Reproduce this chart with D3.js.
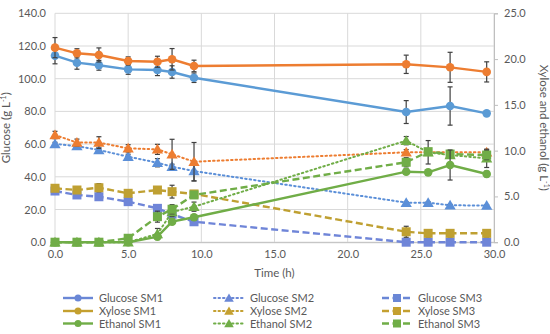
<!DOCTYPE html>
<html><head><meta charset="utf-8">
<script src="https://cdn.jsdelivr.net/npm/d3@7"></script>
<style>body{margin:0;background:#fff}svg{display:block;font-family:Lato,"Open Sans",sans-serif}</style>
</head><body><svg id="c" width="550" height="334"></svg>
<script>
// ---- data ----
const tAll = [0,1.5,3,5,7,8,9.5,24,25.5,27,29.5];
const tSM1 = [0,1.5,3,5,7,8,9.5,24,27,29.5];
const tXylSM2 = [0,1.5,3,5,7,8,9.5,24,29.5];
const glucoseSM1 = [114.1,109.8,108.2,105.7,105.3,104.1,100.6,79.6,83.3,78.8];
const glucoseSM1Err = [5,4,3,3,3.4,3.8,2.9,7,11.7,0.8];
const xyloseSM1 = [21.25,20.63,20.45,19.79,19.71,19.98,19.25,19.43,19.1,18.6];
const xyloseSM1Err = [1.1,0.5,0.77,0.45,0.6,1.17,0.63,1.0,1.64,1.1];
const glucoseSM2 = [60.1,58.8,56.4,52.3,48.6,46.2,43.5,24.2,24.2,22.6,22.4];
const glucoseSM2Err = [1,1,1.5,1.5,2.5,1.5,6,0.5,0.5,0.5,0.5];
const xyloseSM2 = [11.71,10.88,10.88,10.25,10.14,9.6,8.79,9.82,9.82];
const xyloseSM2Err = [0.4,0.38,0.64,0.4,0.55,1.64,2.1,0.3,0.3];
const glucoseSM3 = [31.3,28.9,27.8,24.8,20.7,17.1,12.5,0,0,0,0];
const glucoseSM3Err = [1,1,1,1,1,1,1,0.5,0.5,0.5,0.5];
const xyloseSM3 = [5.89,5.70,5.95,5.34,5.70,5.52,5.27,1.14,0.97,0.97,0.97];
const xyloseSM3Err = [0.2,0.2,0.45,0.2,0.3,0.7,0.3,0.6,0.4,0.4,0.4];
const ethanolSM1 = [0,0,0,0,0.6,2.24,2.72,7.7,7.63,8.43,7.45];
const ethanolSM1Err = [0,0,0,0,0.3,0.3,0.3,0.3,0.3,1.64,0.3];
const ethanolSM2 = [0,0,0,0,0.9,3.3,3.88,11.09,9.82,9.52,9.16];
const ethanolSM2Err = [0,0,0,0,0.6,0.5,0.5,0.45,1.28,0.3,1.0];
const ethanolSM3 = [0,0,0,0.43,2.79,3.6,5.16,8.73,9.89,9.63,9.52];
const ethanolSM3Err = [0,0,0,0.1,0.6,0.5,0.3,0.5,0.3,0.3,0.5];
const xTicks = [0,5,10,15,20,25,30];
const leftTicks = [0,20,40,60,80,100,120,140];
const rightTicks = [0,5,10,15,20,25];
const legendNames = ["Glucose SM1","Glucose SM2","Glucose SM3","Xylose SM1","Xylose SM2","Xylose SM3","Ethanol SM1","Ethanol SM2","Ethanol SM3"];

// ---- styling ----
const C = {gB:"#5B9BD5", gB2:"#5B8FD8", gB3:"#6F85D8", xO:"#ED7D31", xG:"#BFA032", eG:"#70AD47"};
const DASH = {solid:null, dot:"1.5,3", dash:"7,3.5"};
const series = [
  {t:tAll, v:glucoseSM3, e:glucoseSM3Err, ax:"L", c:C.gB3, d:"dash", m:"sq"},
  {t:tAll, v:xyloseSM3, e:xyloseSM3Err, ax:"R", c:C.xG, d:"dash", m:"sq"},
  {t:tAll, v:glucoseSM2, e:glucoseSM2Err, ax:"L", c:C.gB2, d:"dot", m:"tri"},
  {t:tXylSM2, v:xyloseSM2, e:xyloseSM2Err, ax:"R", c:C.xO, d:"dot", m:"tri"},
  {t:tSM1, v:glucoseSM1, e:glucoseSM1Err, ax:"L", c:C.gB, d:"solid", m:"ci"},
  {t:tSM1, v:xyloseSM1, e:xyloseSM1Err, ax:"R", c:C.xO, d:"solid", m:"ci"},
  {t:tAll, v:ethanolSM2, e:ethanolSM2Err, ax:"R", c:C.eG, d:"dot", m:"tri"},
  {t:tAll, v:ethanolSM3, e:ethanolSM3Err, ax:"R", c:C.eG, d:"dash", m:"sq"},
  {t:tAll, v:ethanolSM1, e:ethanolSM1Err, ax:"R", c:C.eG, d:"solid", m:"ci"}
];

const svg = d3.select("#c");
const X0=55, X1=494, Y0=242.2, Y1=13.3;
const x = d3.scaleLinear().domain([0,30]).range([X0,X1]);
const yL = d3.scaleLinear().domain([0,140]).range([Y0,Y1]);
const yR = d3.scaleLinear().domain([0,25]).range([Y0,Y1]);
const txt = "#595959";

// gridlines
svg.append("g").selectAll("line").data(leftTicks).join("line")
  .attr("x1",X0).attr("x2",X1).attr("y1",d=>yL(d)).attr("y2",d=>yL(d))
  .attr("stroke","#D9D9D9").attr("stroke-width",1);
svg.append("g").selectAll("line").data(xTicks).join("line")
  .attr("x1",d=>x(d)).attr("x2",d=>x(d)).attr("y1",Y0).attr("y2",Y1)
  .attr("stroke","#D9D9D9").attr("stroke-width",1);

// axes
const gx = svg.append("g").attr("transform",`translate(0,${Y0})`)
  .call(d3.axisBottom(x).tickValues(xTicks).tickFormat(d3.format(".1f")).tickSize(0).tickPadding(8));
const gl = svg.append("g").attr("transform",`translate(${X0},0)`)
  .call(d3.axisLeft(yL).tickValues(leftTicks).tickFormat(d3.format(".1f")).tickSize(0).tickPadding(9));
const gr = svg.append("g").attr("transform",`translate(${X1},0)`)
  .call(d3.axisRight(yR).tickValues(rightTicks).tickFormat(d3.format(".1f")).tickSize(4).tickPadding(6));
[gx,gl,gr].forEach(g=>{
  g.selectAll("text").attr("fill",txt).style("font-size","11px").style("font-family","Lato,'Open Sans',sans-serif");
  g.select(".domain").attr("stroke","#BFBFBF");
  g.selectAll(".tick line").attr("stroke","#BFBFBF");
});
gl.select(".domain").remove();

// titles
svg.append("text").attr("x",(X0+X1)/2).attr("y",277).attr("text-anchor","middle")
  .attr("fill",txt).style("font-size","11.5px").text("Time (h)");
const lt = svg.append("text").attr("transform",`translate(10,${(Y0+Y1)/2}) rotate(-90)`)
  .attr("text-anchor","middle").attr("fill",txt).style("font-size","11.5px");
lt.append("tspan").text("Glucose (g L");
lt.append("tspan").attr("dy",-4).style("font-size","7px").text("-1");
lt.append("tspan").attr("dy",4).text(")");
const rt = svg.append("text").attr("transform",`translate(540,${(Y0+Y1)/2}) rotate(90)`)
  .attr("text-anchor","middle").attr("fill",txt).style("font-size","11.5px");
rt.append("tspan").text("Xylose and ethanol (g L");
rt.append("tspan").attr("dy",-4).style("font-size","7px").text("-1");
rt.append("tspan").attr("dy",4).text(")");

function marker(g, m, c, cx, cy){
  if(m==="ci") g.append("circle").attr("cx",cx).attr("cy",cy).attr("r",4.3).attr("fill",c);
  else if(m==="sq") g.append("rect").attr("x",cx-4.5).attr("y",cy-4.5).attr("width",9).attr("height",9).attr("fill",c);
  else g.append("path").attr("d",d3.symbol(d3.symbolTriangle,55)()).attr("transform",`translate(${cx},${cy+1})`).attr("fill",c);
}

// series
series.forEach(s=>{
  const y = s.ax==="L"?yL:yR;
  const pts = s.t.map((t,i)=>({t, v:s.v[i], e:s.e[i]}));
  const g = svg.append("g");
  g.append("path").datum(pts)
    .attr("d", d3.line().x(d=>x(d.t)).y(d=>y(d.v)))
    .attr("fill","none").attr("stroke",s.c)
    .attr("stroke-width", s.d==="solid"?2.4:(s.d==="dot"?2:2.4))
    .attr("stroke-linecap", s.d==="dot"?"round":"butt")
    .attr("stroke-dasharray", DASH[s.d]);
  // error bars
  pts.filter(d=>d.e>0).forEach(d=>{
    const xa=x(d.t), ya=y(d.v+d.e), yb=y(d.v-d.e);
    g.append("line").attr("x1",xa).attr("x2",xa).attr("y1",ya).attr("y2",yb).attr("stroke","#404040").attr("stroke-width",1.2);
    [ya,yb].forEach(yy=>g.append("line").attr("x1",xa-2.5).attr("x2",xa+2.5).attr("y1",yy).attr("y2",yy).attr("stroke","#404040").attr("stroke-width",1.2));
  });
  pts.forEach(d=>marker(g, s.m, s.c, x(d.t), y(d.v)));
});

// legend
const legColors = {Glucose:"#6A87D6", Xylose:"#C4A030", Ethanol:"#70AD47"};
const colX = [63, 214, 382];
const rowY = [298, 311, 323.5];
legendNames.forEach((name,i)=>{
  const col=i%3, row=Math.floor(i/3);
  const c = legColors[name.split(" ")[0]];
  const d = ["solid","dot","dash"][col];
  const m = ["ci","tri","sq"][col];
  const g = svg.append("g");
  const x0=colX[col], yy=rowY[row];
  g.append("line").attr("x1",x0).attr("x2",x0+30).attr("y1",yy).attr("y2",yy)
    .attr("stroke",c).attr("stroke-width",d==="dot"?2:2.4)
    .attr("stroke-linecap", d==="dot"?"round":"butt").attr("stroke-dasharray",DASH[d]);
  if(m==="ci") g.append("circle").attr("cx",x0+15).attr("cy",yy).attr("r",3.5).attr("fill",c);
  else if(m==="sq") g.append("rect").attr("x",x0+11).attr("y",yy-4).attr("width",8).attr("height",8).attr("fill",c);
  else g.append("path").attr("d",d3.symbol(d3.symbolTriangle,40)()).attr("transform",`translate(${x0+15},${yy+1})`).attr("fill",c);
  g.append("text").attr("x",x0+36).attr("y",yy+4).attr("fill",txt).style("font-size","11px").text(name);
});
</script></body></html>
